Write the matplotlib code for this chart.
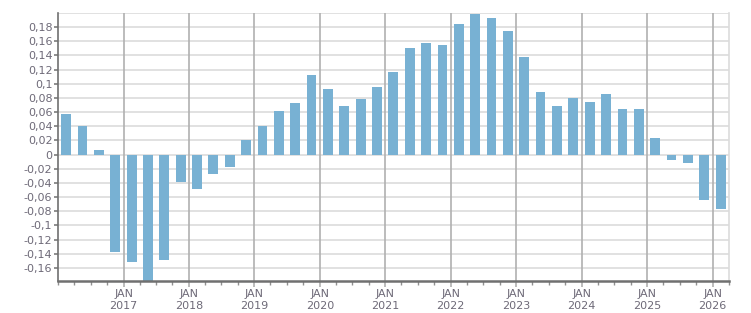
import matplotlib
matplotlib.use("Agg")
import matplotlib.pyplot as plt
import matplotlib.dates as mdates
import matplotlib.ticker as mticker
import pandas as pd
import numpy as np

# quarterly values, Q1 2016 .. Q1 2026
quarters = [str(p) for p in pd.period_range("2016Q1", "2026Q1", freq="Q")]
values = [0.058, 0.041, 0.006, -0.138, -0.152, -0.178, -0.149, -0.038,
          -0.048, -0.028, -0.018, 0.020, 0.040, 0.061, 0.073, 0.113,
          0.093, 0.069, 0.078, 0.096, 0.117, 0.151, 0.157, 0.155,
          0.184, 0.199, 0.193, 0.175, 0.138, 0.089, 0.069, 0.080,
          0.075, 0.085, 0.065, 0.065, 0.023, -0.007, -0.012, -0.064,
          -0.077]
y_ticks = [-0.16, -0.14, -0.12, -0.1, -0.08, -0.06, -0.04, -0.02, 0,
           0.02, 0.04, 0.06, 0.08, 0.1, 0.12, 0.14, 0.16, 0.18]
years = list(range(2017, 2027))

bar_color = "#78b1d3"
text_color = "#6e6a78"

per = pd.PeriodIndex(quarters, freq="Q")
starts = per.start_time
ends = (per + 1).start_time
mids = starts + (ends - starts) / 2

fig = plt.figure(figsize=(7.51, 3.13), dpi=100)
ax = fig.add_axes([0.0772, 0.1032, 0.8931, 0.8553])

ax.bar(mids, values, width=55, color=bar_color, zorder=3)

ax.set_xlim(starts[0], ends[-1])
ax.set_ylim(-0.178, 0.2)

# grid
ax.set_yticks(y_ticks)
for yv in np.arange(-0.16, 0.201, 0.02):
    ax.axhline(yv, color="#dcdcdc", lw=1.2, zorder=1)
year_dates = [pd.Timestamp(f"{y}-01-01") for y in years]
for d in year_dates:
    ax.axvline(d, color="#b0b0b0", lw=1.2, zorder=2)

ax.set_xticks(year_dates)
ax.set_xticklabels([f"JAN\n{y}" for y in years])
ax.xaxis.set_minor_locator(mdates.MonthLocator(bymonth=[1, 4, 7, 10]))

def fmt(v, pos):
    s = f"{v:.2f}".rstrip("0").rstrip(".")
    if s in ("-0", "0.0"):
        s = "0"
    return s.replace(".", ",")

ax.yaxis.set_major_formatter(mticker.FuncFormatter(fmt))

ax.tick_params(axis="y", length=3, width=1.1, color="#707070",
               labelsize=8, labelcolor=text_color, pad=1)
ax.tick_params(axis="x", which="major", length=4, width=1.2, color="#b0b0b0",
               labelsize=8, labelcolor=text_color, pad=2)
ax.tick_params(axis="x", which="minor", length=3, width=1, color="#909090")

ax.spines["top"].set_visible(False)
ax.spines["right"].set_color("#dcdcdc")
ax.spines["right"].set_linewidth(1.2)
ax.spines["left"].set_color("#707070")
ax.spines["left"].set_linewidth(1.2)
ax.spines["bottom"].set_color("#707070")
ax.spines["bottom"].set_linewidth(1.8)
ax.spines["bottom"].set_zorder(5)

plt.savefig("out.png", dpi=100)
